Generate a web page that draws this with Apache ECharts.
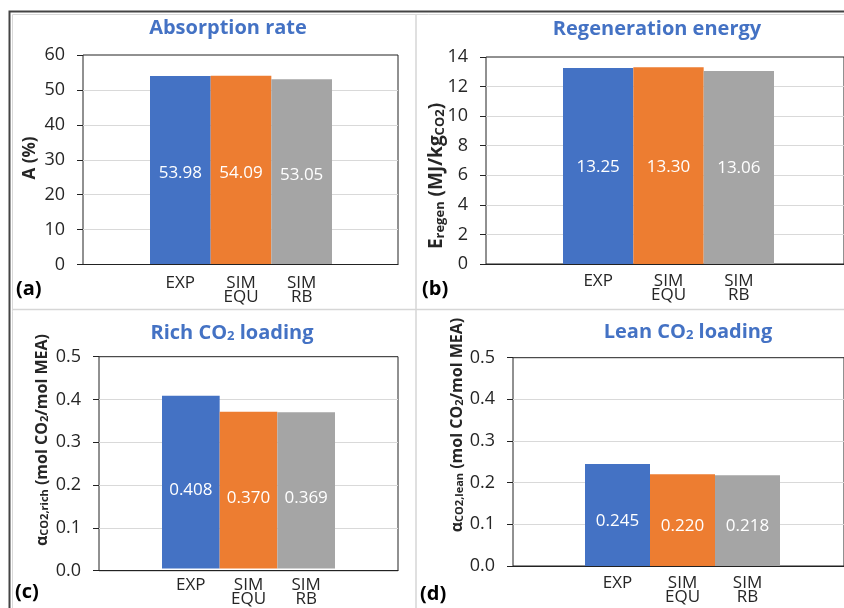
<!DOCTYPE html>
<html><head><meta charset="utf-8">
<script src="https://cdn.jsdelivr.net/npm/echarts@6/dist/echarts.min.js"></script>
<style>html,body{margin:0;padding:0;background:#fff}#c{width:844px;height:608px}</style>
</head><body><div id="c"></div>
<script>
// ---- data ----
const categories = ['EXP', 'SIM\nEQU', 'SIM\nRB'];
const absorptionRate = [53.98, 54.09, 53.05];
const regenerationEnergy = [13.25, 13.30, 13.06];
const richLoading = [0.408, 0.370, 0.369];
const leanLoading = [0.245, 0.220, 0.218];
const axisMax = [60, 14, 0.5, 0.5];
const axisInterval = [10, 2, 0.1, 0.1];
const labelDecimals = [2, 2, 3, 3];
const tickDecimals = [0, 0, 1, 1];
const titles = ['{t|Absorption rate}', '{t|Regeneration energy}', '{t|Rich CO}{ts|2}{t| loading}', '{t|Lean CO}{ts|2}{t| loading}'];
const panelLetters = ['(a)', '(b)', '(c)', '(d)'];
const yNames = [
  '{m|A (%)}',
  '{m|E}{s|regen}{m| (MJ/kg}{s|CO2}{m|)}',
  '{m|α}{s|CO2,rich}{m| (mol CO}{s|2}{m|/mol MEA)}',
  '{m|α}{s|CO2,lean}{m| (mol CO}{s|2}{m|/mol MEA)}'
];

// ---- styles / layout ----
const FONT = "'Open Sans', sans-serif";
const barColors = ['#4472C4', '#ED7D31', '#A5A5A5'];
const textColor = '#262626';
const titleColor = '#4472C4';
const values = [absorptionRate, regenerationEnergy, richLoading, leanLoading];
const layout = [
  {frame: {left: 83, top: 55, width: 315, height: 209.5}, bars: {left: 150, width: 182}, catMargin: 12, labelDy: 3,
   title: [228, 25], letter: [16, 289], name: [28, 158], nameSize: [17, 11]},
  {frame: {left: 486, top: 57, width: 365, height: 207}, bars: {left: 563, width: 211}, catMargin: 10, labelDy: 1,
   title: [657, 26], letter: [422, 289], name: [435, 176], nameSize: [19, 13]},
  {frame: {left: 99, top: 356.7, width: 299, height: 214}, bars: {left: 162, width: 173}, catMargin: 10, labelDy: 8,
   title: [232, 330], letter: [15, 592], name: [40, 440], nameSize: [16, 11]},
  {frame: {left: 513, top: 357.7, width: 339, height: 208.3}, bars: {left: 585, width: 195}, catMargin: 10, labelDy: 6,
   title: [688, 329], letter: [420, 594], name: [455, 425], nameSize: [16, 11]}
];

const grid = [], xAxis = [], yAxis = [], series = [], graphic = [];

layout.forEach((p, i) => {
  const f = p.frame;
  grid.push({left: f.left, top: f.top, width: f.width, height: f.height, show: true,
             borderColor: '#222', borderWidth: 1, backgroundColor: 'transparent'});
  grid.push({left: p.bars.left, top: f.top, width: p.bars.width, height: f.height, show: false});
  // frame axes
  xAxis.push({gridIndex: 2 * i, type: 'category', data: [''], z: 5,
              axisLine: {show: true, lineStyle: {color: '#222', width: 1}},
              axisTick: {show: false}, axisLabel: {show: false}, splitLine: {show: false}});
  yAxis.push({gridIndex: 2 * i, type: 'value', min: 0, max: axisMax[i], interval: axisInterval[i],
              axisLine: {show: false},
              axisTick: {show: true, length: 6, lineStyle: {color: '#222'}},
              axisLabel: {margin: 18, fontSize: 18, color: textColor, fontFamily: FONT,
                          formatter: v => v.toFixed(tickDecimals[i])},
              splitLine: {show: true, showMinLine: false, showMaxLine: false, lineStyle: {color: '#d9d9d9', width: 1}}});
  // bar axes
  xAxis.push({gridIndex: 2 * i + 1, type: 'category', data: categories,
              axisLine: {show: false}, axisTick: {show: false},
              axisLabel: {interval: 0, margin: p.catMargin, fontSize: 17, lineHeight: 14, color: textColor, fontFamily: FONT}});
  yAxis.push({gridIndex: 2 * i + 1, type: 'value', min: 0, max: axisMax[i], show: false});
  series.push({type: 'bar', xAxisIndex: 2 * i + 1, yAxisIndex: 2 * i + 1, barCategoryGap: '0%', z: 2,
               data: values[i].map((v, j) => ({value: v, itemStyle: {color: barColors[j]}})),
               label: {show: true, position: 'inside', color: '#ffffff', fontSize: 17, fontFamily: FONT,
                       offset: [0, p.labelDy], formatter: d => d.value.toFixed(labelDecimals[i])}});
  // title
  graphic.push({type: 'text', x: p.title[0], y: p.title[1], z: 10,
    style: {text: titles[i], align: 'center', verticalAlign: 'middle',
      rich: {
        t: {fontSize: 20, fontWeight: 'bold', fontFamily: FONT, fill: titleColor, lineHeight: 26, verticalAlign: 'bottom'},
        ts: {fontSize: 13, fontWeight: 'bold', fontFamily: FONT, fill: titleColor, lineHeight: 14, verticalAlign: 'bottom'}
      }}});
  // panel letter
  graphic.push({type: 'text', x: p.letter[0], y: p.letter[1], z: 10,
    style: {text: panelLetters[i], font: 'bold 20px ' + FONT, fill: '#000', align: 'left', verticalAlign: 'middle'}});
  // y-axis name
  graphic.push({type: 'text', x: p.name[0], y: p.name[1], rotation: Math.PI / 2, z: 10,
    style: {text: yNames[i], align: 'center', verticalAlign: 'middle',
      rich: {
        m: {fontSize: p.nameSize[0], fontWeight: 'bold', fontFamily: FONT, fill: textColor, lineHeight: p.nameSize[0] + 4, verticalAlign: 'bottom'},
        s: {fontSize: p.nameSize[1], fontWeight: 'bold', fontFamily: FONT, fill: textColor, lineHeight: p.nameSize[1] + 1, verticalAlign: 'bottom'}
      }}});
});

// figure frame and panel separators
graphic.push({type: 'rect', z: 1, shape: {x: 9.5, y: 11.5, width: 900, height: 700}, style: {fill: 'none', stroke: '#444', lineWidth: 2}});
graphic.push({type: 'rect', z: 1, shape: {x: 12.5, y: 14.5, width: 900, height: 700}, style: {fill: 'none', stroke: '#d9d9d9', lineWidth: 1}});
graphic.push({type: 'line', z: 1, shape: {x1: 416, y1: 15, x2: 416, y2: 608}, style: {stroke: '#d6d6d6', lineWidth: 1.5}});
graphic.push({type: 'line', z: 1, shape: {x1: 13, y1: 309.5, x2: 844, y2: 309.5}, style: {stroke: '#d6d6d6', lineWidth: 1.5}});

const chart = echarts.init(document.getElementById('c'), null, {renderer: 'canvas'});
chart.setOption({
  animation: false,
  backgroundColor: '#fff',
  textStyle: {fontFamily: FONT},
  grid, xAxis, yAxis, series, graphic
});
</script>
</body></html>
